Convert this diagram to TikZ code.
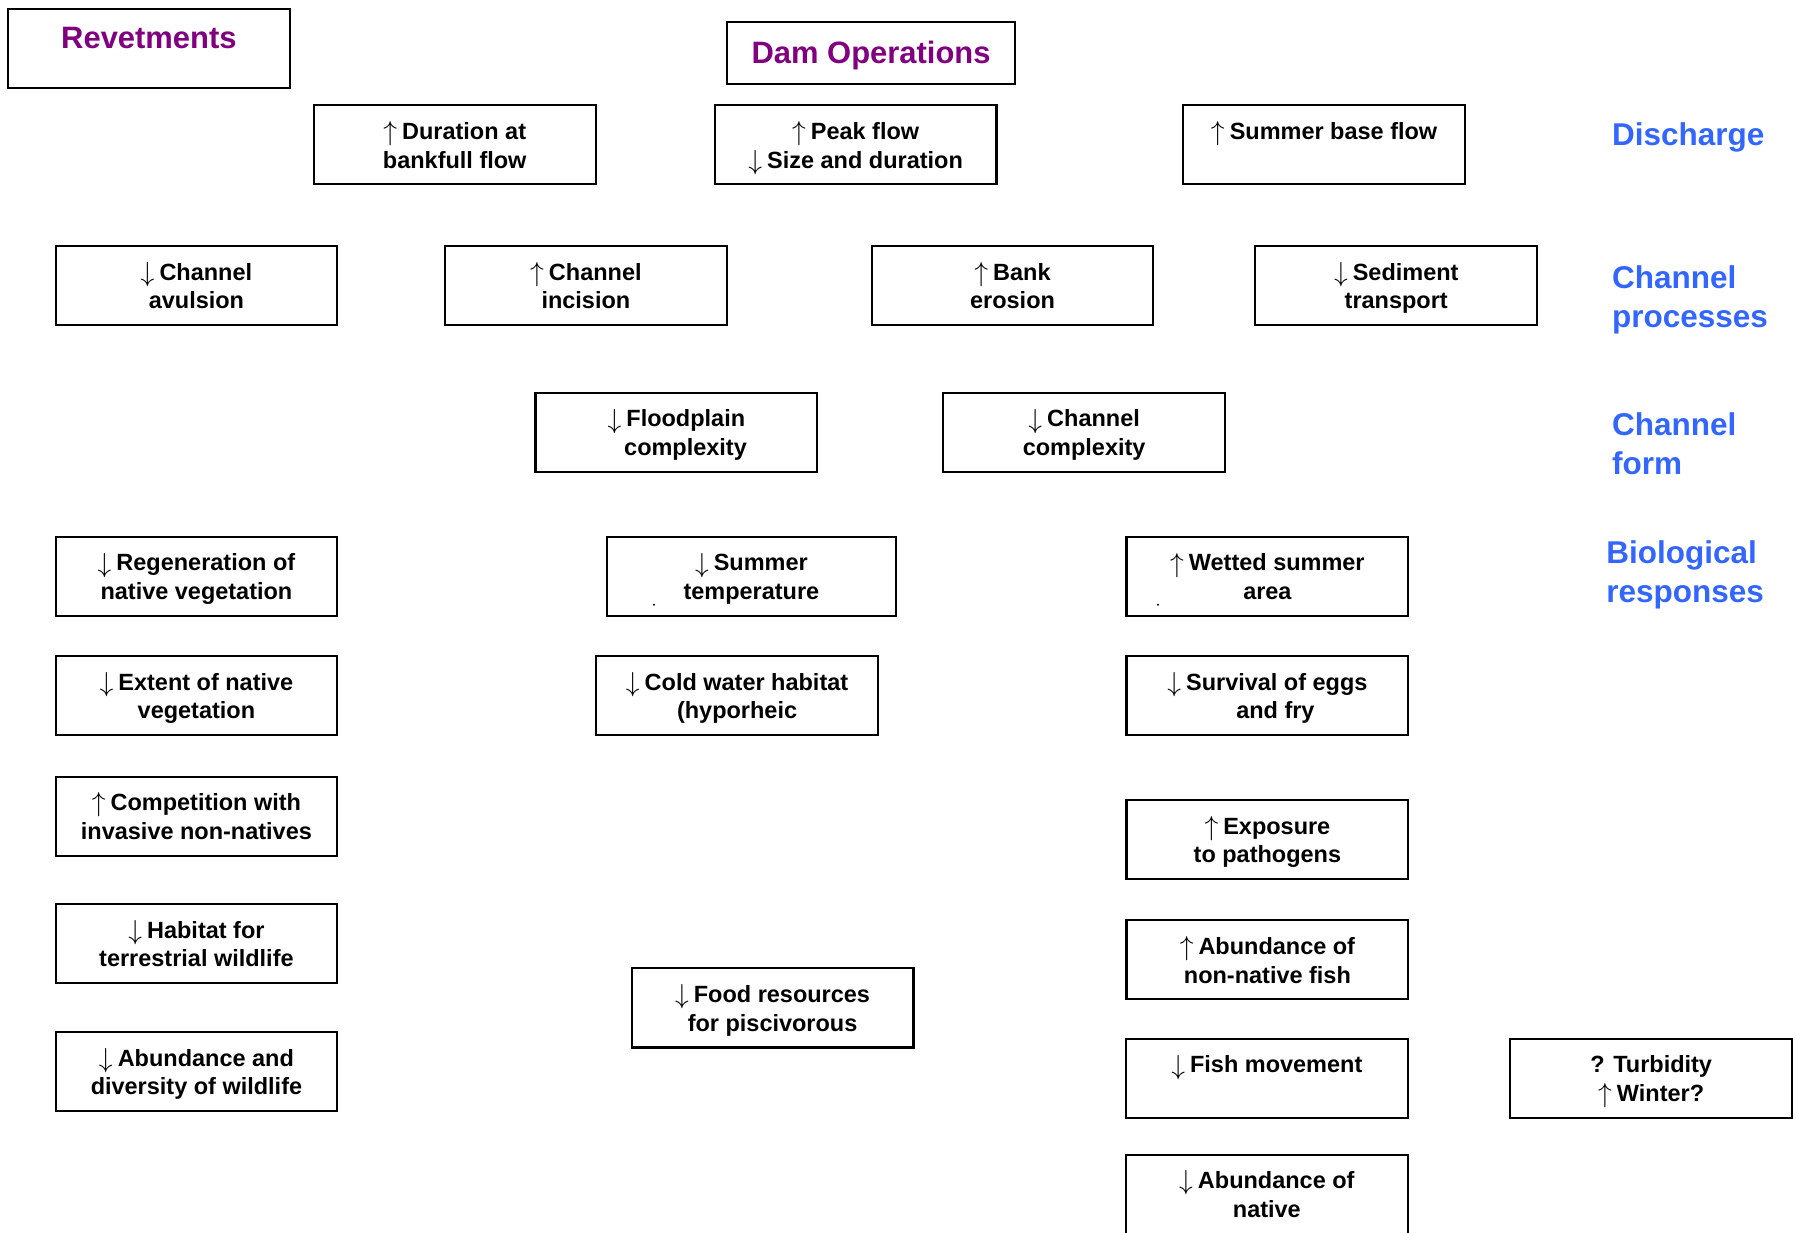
\documentclass[tikz,border=0pt]{standalone}
\usepackage{fontspec}
\setmainfont{Liberation Sans}
\definecolor{ttlpurple}{RGB}{128,0,128}
\definecolor{lvlblue}{RGB}{51,102,255}
\newcommand\myup{\raisebox{-0.6pt}{\scalebox{1.2}{$\uparrow$}}\kern2.2pt}
\newcommand\mydn{\raisebox{-0.6pt}{\scalebox{1.2}{$\downarrow$}}\kern2.2pt}
\begin{document}
\begin{tikzpicture}[x=0.5pt,y=-0.5pt,
  box/.style={draw=black, line width=0.9pt, minimum width=123pt, minimum height=34.5pt,
    inner sep=0pt, align=center, font=\bfseries\fontsize{10.25pt}{12.5pt}\selectfont,
    text height=20.2pt, text depth=0pt},
  ttl/.style={text=ttlpurple, inner sep=0pt, font=\bfseries\fontsize{13.5pt}{16pt}\selectfont},
  lvl/.style={text=lvlblue, inner sep=0pt, anchor=west, align=left,
    font=\bfseries\fontsize{13.75pt}{17pt}\selectfont}]
\useasboundingbox (0,0) rectangle (1568,1076);
\clip (0,0) rectangle (1568,1076);
% titles
\node[draw=black, line width=0.9pt, minimum width=123pt, minimum height=34.5pt] (rev) at (130,42.5) {};
\node[ttl] (revT) at (130,33) {Revetments};
\node[draw=black, line width=0.9pt, minimum width=125.5pt, minimum height=27pt, ttl,
  text height=9.8pt, text depth=0pt] (dam) at (760.5,46) {\raisebox{0.3pt}{Dam Operations}};
% discharge row
\node[box] (dur) at (397,126.5) {\myup Duration at\\bankfull flow};
\node[box] (peak) at (747,126.5) {\myup Peak flow\\\mydn Size and duration};
\node[box] (base) at (1156,126.5) {\myup Summer base flow\\~};
% channel processes row
\node[box] (avul) at (171.5,249.5) {\mydn Channel\\avulsion};
\node[box] (inci) at (511.5,249.5) {\myup Channel\\incision};
\node[box] (bank) at (884,249.5) {\myup Bank\\erosion};
\node[box] (sedi) at (1219,249.5) {\mydn Sediment\\transport};
% channel form row
\node[box] (flood) at (590.5,377.5) {\mydn Floodplain\\\hspace*{8pt}complexity};
\node[box] (chcx) at (946.5,377.5) {\mydn Channel\\complexity};
% biological responses
\node[box] (regen) at (171.5,503) {\mydn Regeneration of\\native vegetation};
\node[box, minimum width=126pt] (stemp) at (656,503) {\mydn Summer\\temperature};
\node[box] (wett) at (1106.5,503) {\myup Wetted summer\\area};
\node[box] (extent) at (171.5,607.5) {\mydn Extent of native\\vegetation};
\node[box] (cold) at (643.5,607.5) {\mydn Cold water habitat\\(hyporheic};
\node[box] (surv) at (1106.5,607.5) {\mydn Survival of eggs\\\hspace*{7pt}and fry};
\node[box] (comp) at (171.5,712.5) {\myup Competition with\\invasive non-natives};
\node[box] (expo) at (1106.5,733) {\myup Exposure\\to pathogens};
\node[box] (habt) at (171.5,824) {\mydn Habitat for\\terrestrial wildlife};
\node[box] (abnn) at (1106.5,838) {\myup Abundance of\\non-native fish};
\node[box] (food) at (674.5,880) {\mydn Food resources\\for piscivorous};
\node[box] (abdw) at (171.5,935.5) {\mydn Abundance and\\diversity of wildlife};
\node[box] (fish) at (1106,941.5) {\mydn Fish movement\\~};
\node[box] (turb) at (1441.5,941.5) {? Turbidity\\\myup Winter?};
\node[box] (abnat) at (1106,1042.5) {\mydn Abundance of\\native};
% stray dots
\fill (571,528) circle (1);
\fill (1011,528) circle (1);
% level labels
\node[lvl] (lq) at (1407,120) {Discharge};
\node[lvl] (lp) at (1407,262) {Channel\\processes};
\node[lvl] (lf) at (1407,387.5) {Channel\\form};
\node[lvl] (lb) at (1402,502) {Biological\\responses};
\end{tikzpicture}
\end{document}
